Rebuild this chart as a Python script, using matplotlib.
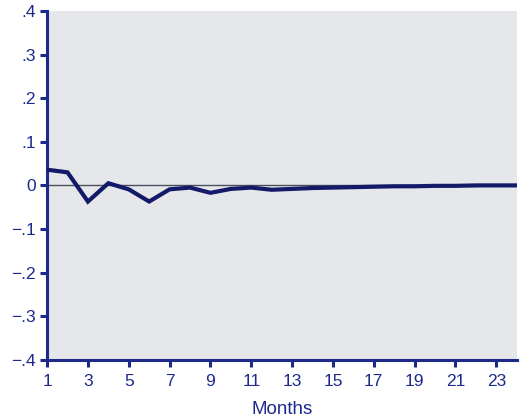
import matplotlib.pyplot as plt
import numpy as np

plt.rcParams['font.family'] = ['Liberation Sans', 'DejaVu Sans']

months = np.arange(1, 25)
values = [0.036, 0.030, -0.037, 0.005, -0.009, -0.037, -0.009, -0.005,
          -0.017, -0.008, -0.005, -0.010, -0.008, -0.006, -0.005, -0.004,
          -0.003, -0.002, -0.002, -0.001, -0.001, 0.0, 0.0, 0.0]

yticks = [-0.4, -0.3, -0.2, -0.1, 0, 0.1, 0.2, 0.3, 0.4]
ylabels = ["\u2212.4", "\u2212.3", "\u2212.2", "\u2212.1", "0", ".1", ".2", ".3", ".4"]
xticks = list(range(1, 24, 2))

navy = "#1c2a8c"
fig = plt.figure(figsize=(5.23, 4.19), dpi=100)
ax = fig.add_axes([0.09, 0.141, 0.898, 0.833])
ax.set_facecolor("#e6e7ea")

ax.axhline(0, color="#4a4f5e", lw=1.0, zorder=1)
ax.plot(months, values, color="#141a6a", lw=3.0, solid_joinstyle="miter", zorder=3)

ax.set_xlim(1, 24)
ax.set_ylim(-0.4, 0.4)
ax.set_yticks(yticks)
ax.set_yticklabels(ylabels)
ax.set_xticks(xticks)

for s in ["top", "right"]:
    ax.spines[s].set_visible(False)
for s in ["left", "bottom"]:
    ax.spines[s].set_color(navy)
    ax.spines[s].set_linewidth(2.2)

ax.tick_params(axis="both", colors=navy, width=2.2, length=5, labelsize=12.5,
               direction="out")
ax.tick_params(axis="x", pad=5)
ax.tick_params(axis="y", pad=3)
ax.set_xlabel("Months", color=navy, fontsize=13.5, labelpad=9)

fig.savefig("out.png", dpi=100)
